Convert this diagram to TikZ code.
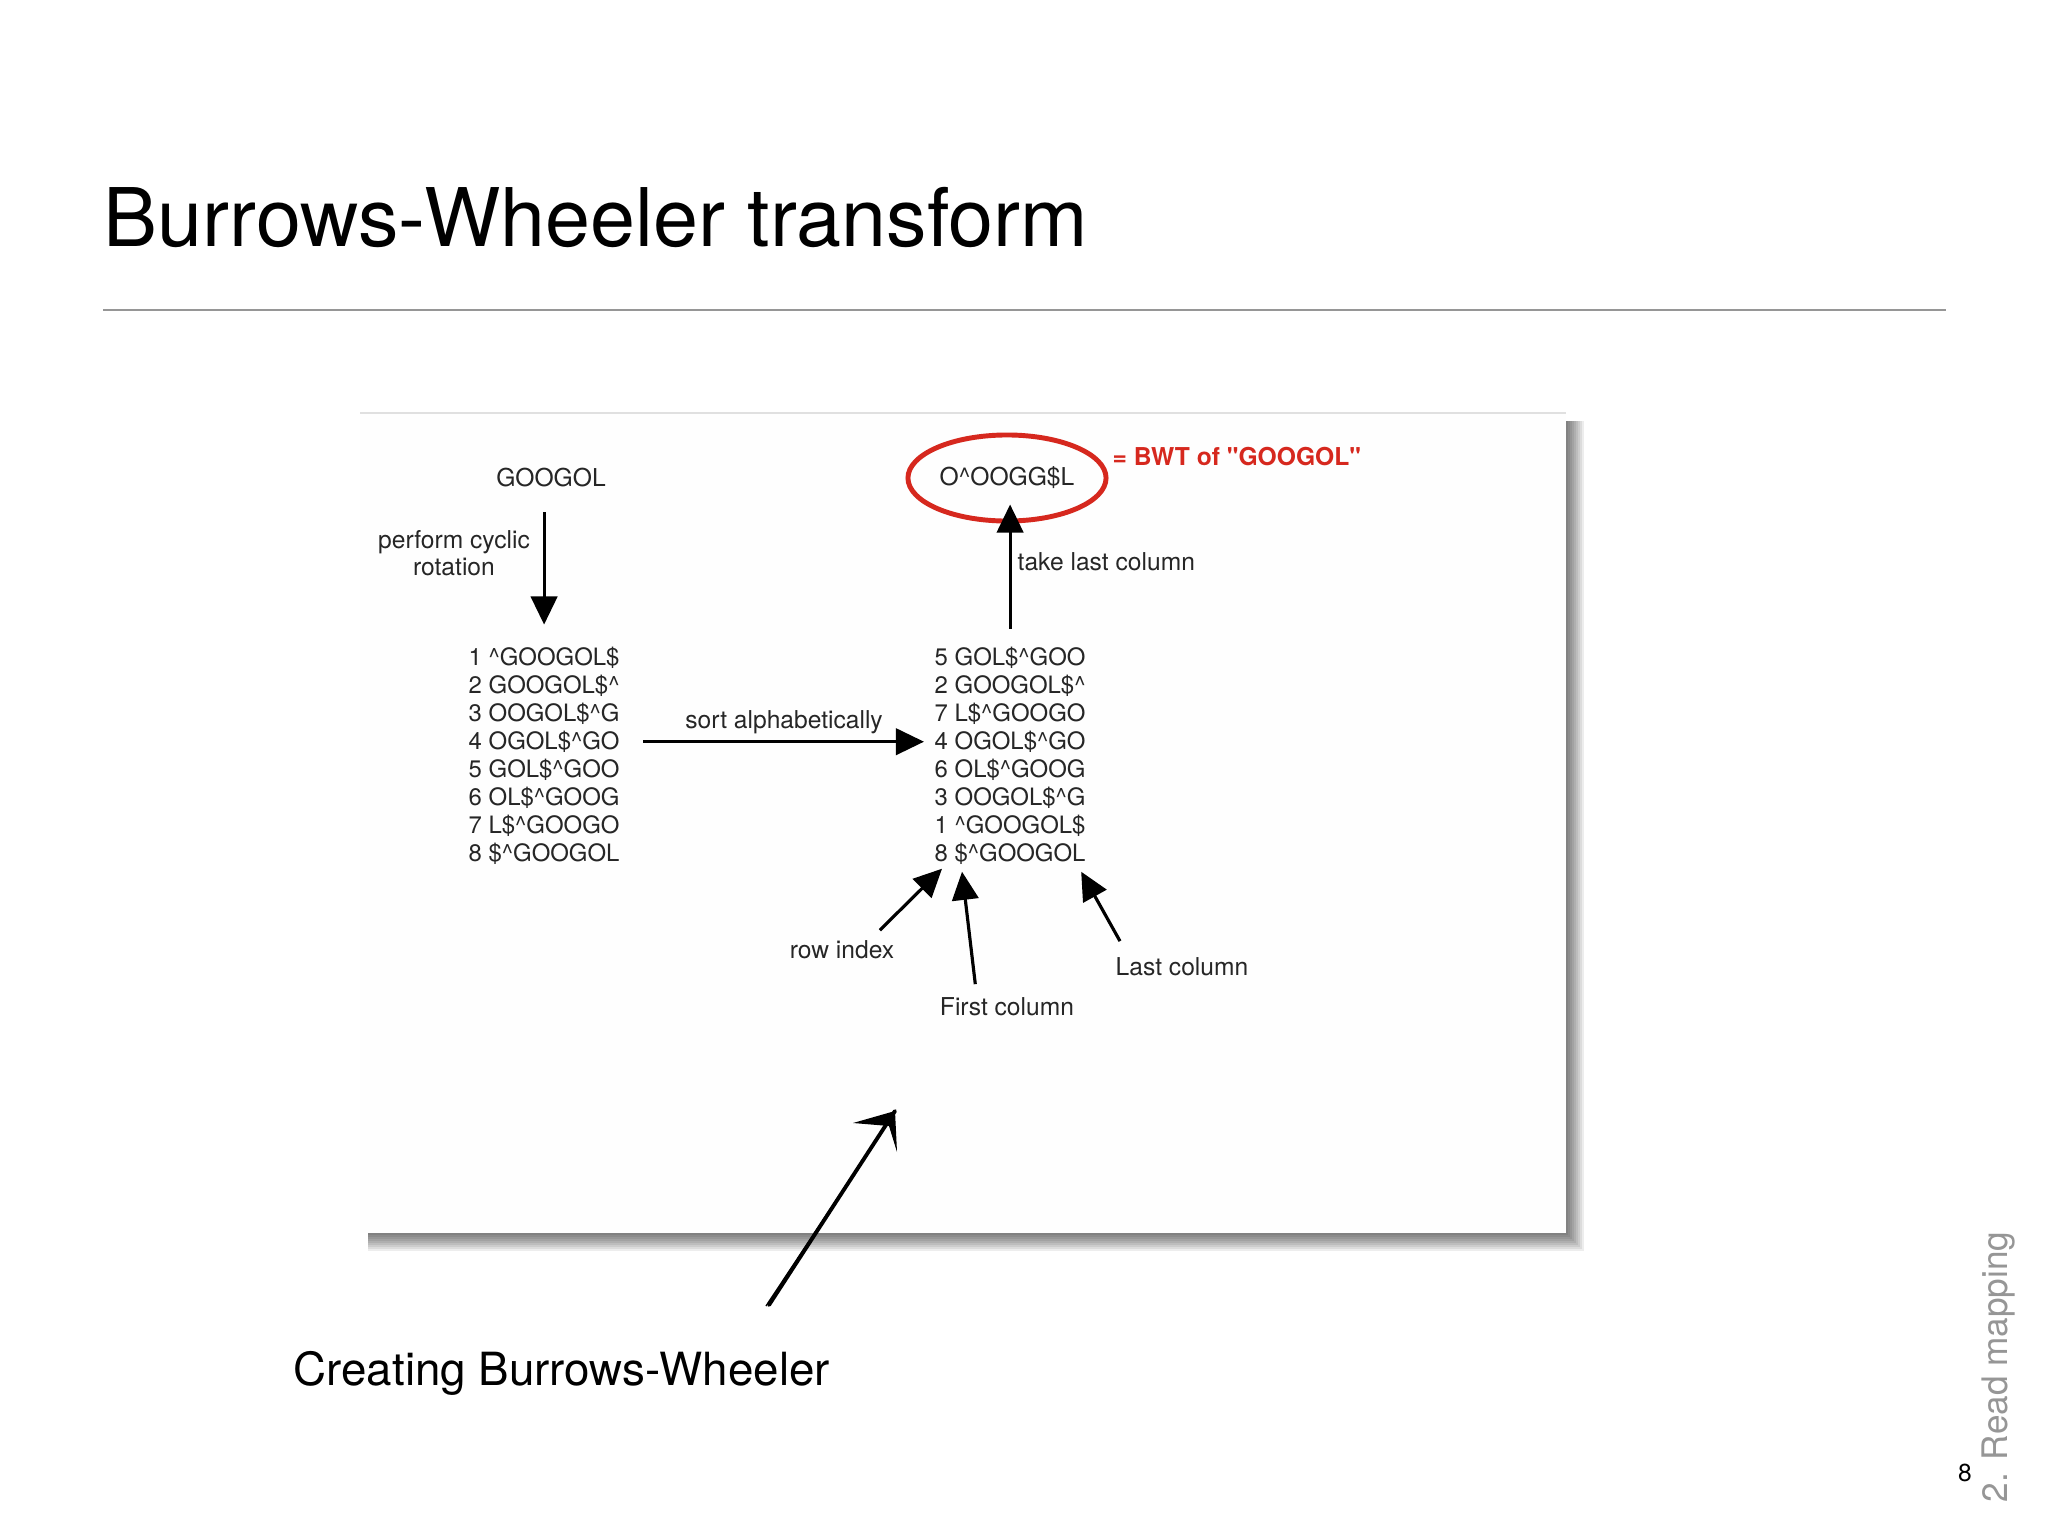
\documentclass[tikz,border=0pt]{standalone}
\usepackage{fontspec}
\setmainfont{TeX Gyre Heros}
\usepackage{tikz}
\usetikzlibrary{arrows.meta,positioning,shapes.geometric}
\definecolor{bwtred}{RGB}{214,40,30}
\definecolor{slidegray}{RGB}{150,150,150}
\newcommand{\bwtc}{\textasciicircum{}}

\tikzset{
  rowtxt/.style={anchor=west, inner sep=0pt, font=\fontsize{6.8}{8}\selectfont, text=black!85},
  lbl/.style={inner sep=0pt, font=\fontsize{7}{7.8}\selectfont, text=black!85},
  bigarrow/.style={line width=0.9pt, -{Triangle[length=8pt,width=7.5pt]}}
}

\begin{document}
\begin{tikzpicture}[x=0.01cm, y=-0.01cm]
        \useasboundingbox (0,0) rectangle (2048,1536);
        \fill[white] (0,0) rectangle (2048,1536);

        % Slide title and rule
        \node[anchor=base west, inner sep=0pt, font=\fontsize{23}{27}\selectfont] (title) at (103,246) {Burrows-Wheeler transform};
        \draw[color=slidegray, line width=0.6pt] (103,310) -- (1946,310);

        % Frame with its shadow
        \foreach \d in {0,2,...,16}
            \fill[black, opacity=0.07] (368,421) rectangle (1568+\d,1235+\d);
        \fill[white!99.5!black] (360,413) rectangle (1566,1233);
        \draw[black!12] (360,413) -- (1566,413);

        % Input word
        \node[lbl] (googol) at (551,478) {GOOGOL};
        \node[lbl, align=center] (cyclic) at (454,553) {perform cyclic\\rotation};

        % Rotations, and the same rows sorted
        \foreach \k/\txt in {1/{1 \bwtc GOOGOL\$}, 2/{2 GOOGOL\$\bwtc}, 3/{3 OOGOL\$\bwtc G}, 4/{4 OGOL\$\bwtc GO},
                             5/{5 GOL\$\bwtc GOO}, 6/{6 OL\$\bwtc GOOG}, 7/{7 L\$\bwtc GOOGO}, 8/{8 \$\bwtc GOOGOL}}
            \node[rowtxt] (l\k) at (468,{658+27.9*(\k-1)}) {\txt};
        \foreach \k/\txt in {1/{5 GOL\$\bwtc GOO}, 2/{2 GOOGOL\$\bwtc}, 3/{7 L\$\bwtc GOOGO}, 4/{4 OGOL\$\bwtc GO},
                             5/{6 OL\$\bwtc GOOG}, 6/{3 OOGOL\$\bwtc G}, 7/{1 \bwtc GOOGOL\$}, 8/{8 \$\bwtc GOOGOL}}
            \node[rowtxt] (r\k) at (934,{658+27.9*(\k-1)}) {\txt};

        % Result, circled
        \node[ellipse, draw=bwtred, line width=1.4pt, minimum width=1.98cm, minimum height=0.86cm, inner sep=0pt,
              font=\fontsize{7}{8}\selectfont, text=black!85] (bwt) at (1007,478) {O\bwtc OOGG\$L};
        \node[lbl, anchor=west, font=\fontsize{7}{8}\selectfont\bfseries, text=bwtred] (bwtnote) at (1112,457) {= BWT of \textquotedbl GOOGOL\textquotedbl};

        % Steps
        \draw[bigarrow, shorten <=0.24cm, shorten >=0.22cm] (googol.south -| l1.north) -- (l1.north);
        \draw[bigarrow, shorten <=0.23cm, shorten >=0.1cm] (l4.east) -- (r4.west);
        \node[lbl] (sortlbl) at (784,722) {sort alphabetically};
        \draw[bigarrow, shorten <=0.18cm, shorten >=-0.19cm] (r1.north) -- (r1.north |- bwt.south);
        \node[lbl, anchor=west] (takelbl) at (1017,562) {take last column};

        % Parts of a row
        \node[lbl] (rowlbl) at (842,950) {row index};
        \node[lbl] (firstlbl) at (1007,1007) {First column};
        \node[lbl, anchor=west] (lastlbl) at (1115,967) {Last column};
        \coordinate (rowtip) at ([xshift=0.08cm, yshift=-0.04cm]r8.south west);
        \coordinate (firsttip) at ([xshift=0.28cm, yshift=-0.07cm]r8.south west);
        \coordinate (lasttip) at ([xshift=-0.05cm, yshift=-0.07cm]r8.south east);
        \draw[bigarrow] ([xshift=-0.15cm, yshift=0.1cm]rowlbl.north east) -- (rowtip);
        \draw[bigarrow] ([xshift=0.36cm, yshift=0.13cm]firstlbl.north west) -- (firsttip);
        \draw[bigarrow] ([xshift=0.05cm, yshift=0.16cm]lastlbl.north west) -- (lasttip);

        % Hand-drawn pointer
        \coordinate (scribtail) at (769,1305);
        \coordinate (scribtip) at (895,1111);
        \draw[line width=1.1pt, line cap=round] (scribtail) -- (scribtip);
        \draw[line width=0.4pt] (772,1300) -- (891,1118);
        \draw[line width=0.4pt] (766,1306) -- (884,1128);
        \fill (853,1123) -- (scribtip) -- (897,1152) -- (889,1126) -- cycle;

        % Caption and slide footer
        \node[anchor=base west, inner sep=0pt, font=\fontsize{13}{15}\selectfont] (caption) at (293,1385) {Creating Burrows-Wheeler};
        \node[inner sep=0pt, font=\fontsize{7}{8}\selectfont] (pagenum) at (1965,1473) {8};
        \node[inner sep=0pt, rotate=90, text=slidegray, font=\fontsize{10}{12}\selectfont] (section) at (1998,1367) {2. Read mapping};
    \end{tikzpicture}
\end{document}
